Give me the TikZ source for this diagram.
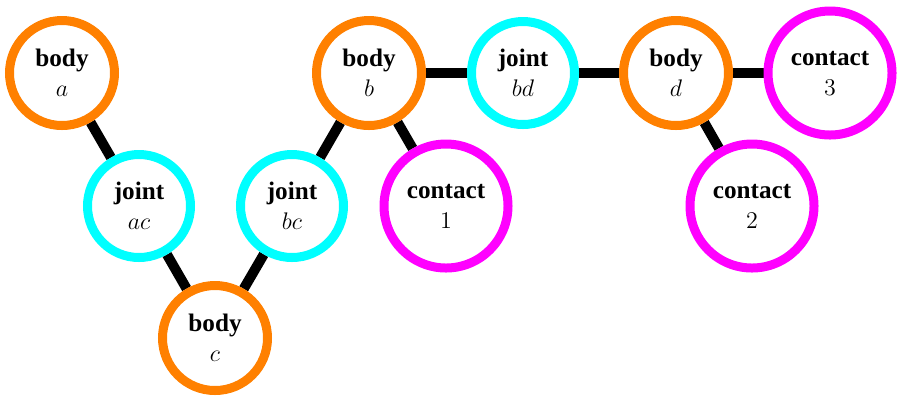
\documentclass[tikz,border=0pt]{standalone}
\usepackage{fontspec}
\setmainfont{Liberation Serif}
\usetikzlibrary{backgrounds}
\definecolor{bodycol}{RGB}{255,128,0}
\definecolor{jointcol}{RGB}{0,255,255}
\definecolor{contactcol}{RGB}{255,0,255}
\tikzset{
  vert/.style={circle,line width=4.5pt,fill=white,inner sep=0pt,align=center,
    font=\fontsize{12.6}{15}\selectfont},
  bodyn/.style={vert,draw=bodycol,minimum size=52.5pt},
  jointn/.style={vert,draw=jointcol,minimum size=51.5pt},
  contactn/.style={vert,draw=contactcol,minimum size=62pt},
  link/.style={line width=5pt,black}
}
\begin{document}
\begin{tikzpicture}[x=0.5pt,y=-0.5pt]
\useasboundingbox (0,0) rectangle (903,404);
\node[bodyn] (a) at (62,73) {\textbf{body}\\$a$};
\node[jointn] (ac) at (139,206) {\textbf{joint}\\$ac$};
\node[bodyn] (c) at (215,338) {\textbf{body}\\$c$};
\node[jointn] (bc) at (292,206) {\textbf{joint}\\$bc$};
\node[bodyn] (b) at (369,73) {\textbf{body}\\$b$};
\node[contactn] (c1) at (446,206) {\textbf{contact}\\$1$};
\node[jointn] (bd) at (523,73) {\textbf{joint}\\$bd$};
\node[bodyn] (d) at (676,73) {\textbf{body}\\$d$};
\node[contactn] (c2) at (752,206) {\textbf{contact}\\$2$};
\node[contactn] (c3) at (830,73) {\textbf{contact}\\$3$};
\begin{scope}[on background layer]
\draw[link] (a) -- (ac);
\draw[link] (ac) -- (c);
\draw[link] (c) -- (bc);
\draw[link] (bc) -- (b);
\draw[link] (b) -- (c1);
\draw[link] (b) -- (bd);
\draw[link] (bd) -- (d);
\draw[link] (d) -- (c2);
\draw[link] (d) -- (c3);
\end{scope}
\end{tikzpicture}
\end{document}
